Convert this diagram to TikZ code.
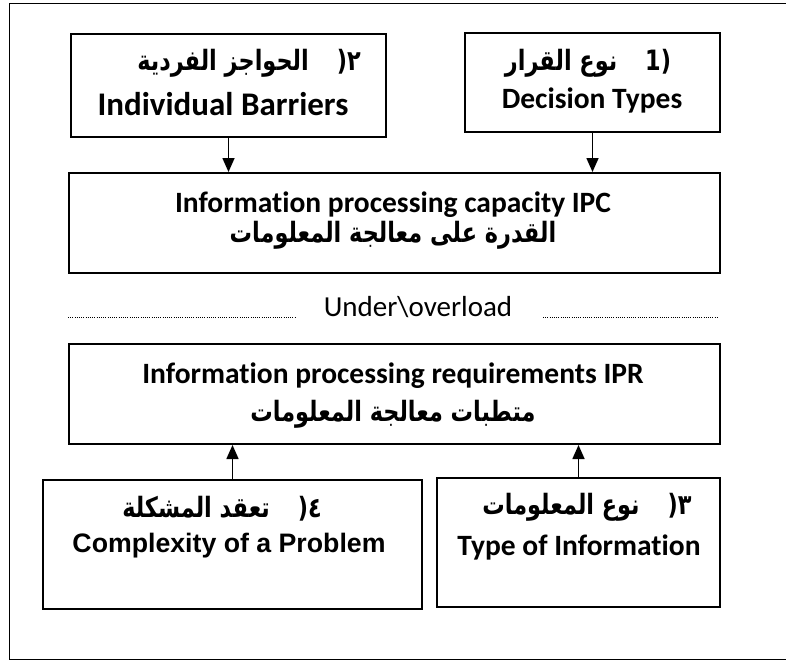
\documentclass[tikz,border=0pt]{standalone}
\usepackage{fontspec}
\setmainfont{Carlito}[Ligatures=NoCommon]
\newfontfamily\arabicfont[Script=Arabic,FakeStretch=0.8]{DejaVu Sans}
\newfontfamily\arialfont{Liberation Sans}
\TeXXeTstate=1
\usetikzlibrary{arrows.meta}

\begin{document}
\begin{tikzpicture}[x=1pt,y=-1pt,
  box/.style={draw, line width=2pt, inner sep=0pt, anchor=north west},
  conn/.style={line width=1.6pt, -{Triangle[length=14pt,width=12pt]}},
  en/.style={font=\fontsize{29.5}{34}\selectfont\bfseries, inner sep=0pt, anchor=base},
  ar/.style={font=\fontsize{28}{32}\selectfont\arabicfont\bfseries, inner sep=0pt},
  dots/.style={line width=1pt, dash pattern=on 1pt off 1.2pt}]
\useasboundingbox (0,0) rectangle (786,661);

% outer frame, running off the right edge
\begin{scope}
  \clip (0,0) rectangle (786,661);
  \draw[line width=1.6pt] (9.5,3.5) rectangle (820,659.5);
\end{scope}

% factor boxes and the two central boxes
\node[box, minimum width=315, minimum height=103] (b2) at (70,33) {};
\node[box, minimum width=255, minimum height=99]  (b1) at (464,32) {};
\node[box, minimum width=651, minimum height=100] (ipc) at (68,172) {};
\node[box, minimum width=651, minimum height=100] (ipr) at (68,343) {};
\node[box, minimum width=379, minimum height=129] (b4) at (42,479) {};
\node[box, minimum width=283, minimum height=129] (b3) at (436,477) {};

% labels
\node[ar] (t2a) at (249,63) {\beginR الحواجز الفردية\endR\enspace\enspace ٢(};
\node[en, font=\fontsize{33}{38}\selectfont\bfseries] (t2e) at (223,115) {Individual Barriers};

\node[ar] (t1a) at (588,63) {\beginR نوع القرار\endR\enspace\enspace (1};
\node[en] (t1e) at (592,108) {Decision Types};

\node[en] (tce) at (393,212) {Information processing capacity IPC};
\node[ar] (tca) at (393,235) {\beginR القدرة على معالجة المعلومات\endR};

\node[font=\fontsize{29}{34}\selectfont, inner sep=0pt, anchor=base] (ul) at (418,316) {Under\textbackslash overload};

\node[en] (tre) at (393,383) {Information processing requirements IPR};
\node[ar] (tra) at (393,414) {\beginR متطبات معالجة المعلومات\endR};

\node[ar] (t4a) at (222,509) {\beginR تعقد المشكلة\endR\enspace\enspace ٤(};
\node[en, font=\fontsize{26.7}{31}\selectfont\arialfont\bfseries] (t4e) at (229,552) {Complexity of a Problem};

\node[ar] (t3a) at (587,507) {\beginR نوع المعلومات\endR\enspace\enspace ٣(};
\node[en] (t3e) at (579,555) {Type of Information};

% dotted separators either side of the middle label
\coordinate (dl1) at (68,317);
\coordinate (dl2) at (295,317);
\coordinate (dr1) at (543,317);
\coordinate (dr2) at (717,317);
\draw[dots] (dl1) -- (dl2);
\draw[dots] (dr1) -- (dr2);

% connectors
\draw[conn] (b2.south) -- (b2.south |- ipc.north);
\draw[conn] (b1.south) -- (b1.south |- ipc.north);
\draw[conn] (b4.north) -- (b4.north |- ipr.south);
\draw[conn] (b3.north) -- (b3.north |- ipr.south);
\end{tikzpicture}
\end{document}
